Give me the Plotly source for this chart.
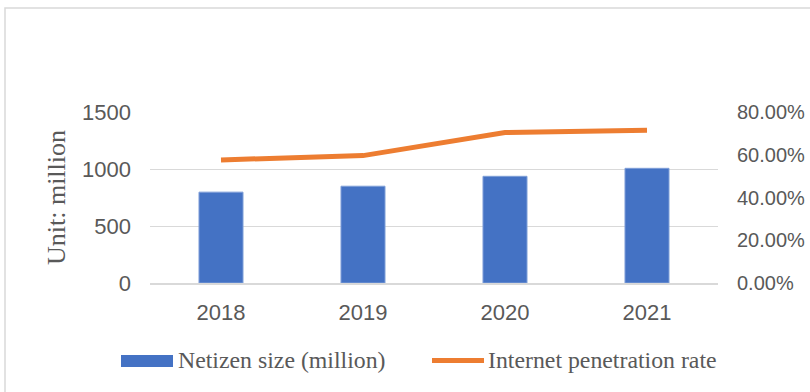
import plotly.graph_objects as go

years = ["2018", "2019", "2020", "2021"]
netizen_size = [797, 849, 936, 1006]
penetration_rate = [0.576, 0.596, 0.704, 0.715]

left_ticks = [0, 500, 1000, 1500]
right_ticks = [0, 0.2, 0.4, 0.6, 0.8]
right_tick_text = ["0.00%", "20.00%", "40.00%", "60.00%", "80.00%"]

bar_name = "Netizen size (million)"
line_name = "Internet penetration rate"

W, H = 810, 392
L, R, T, B = 150, 92, 112, 109
pw = W - L - R
ph = H - T - B


def px(x):
    return (x - L) / pw


def py(y):
    return (T + ph - y) / ph


BLUE = "#4472C4"
ORANGE = "#ED7D31"

fig = go.Figure()
fig.add_trace(go.Bar(
    x=years, y=netizen_size, name=bar_name,
    marker=dict(color=BLUE, line=dict(color="#7f9fd8", width=1)),
    yaxis="y",
))
fig.add_trace(go.Scatter(
    x=years, y=penetration_rate, name=line_name,
    mode="lines", line=dict(color=ORANGE, width=5),
    yaxis="y2",
))

tick_font = dict(family="Liberation Sans, Arial, sans-serif", size=22, color="#595959")
right_font = dict(family="Liberation Sans, Arial, sans-serif", size=20, color="#595959")
serif_font = dict(family="Liberation Serif, Times New Roman, serif", size=23.8, color="#595959")

shapes = [
    dict(type="rect", xref="paper", yref="paper",
         x0=px(5), x1=px(W + 20), y0=py(H + 20), y1=py(8),
         line=dict(color="#d9d9d9", width=1.5), fillcolor="rgba(0,0,0,0)", layer="below"),
    # legend keys
    dict(type="rect", xref="paper", yref="paper",
         x0=px(121), x1=px(173), y0=py(367), y1=py(355),
         line=dict(width=0), fillcolor=BLUE),
    dict(type="line", xref="paper", yref="paper",
         x0=px(432), x1=px(484), y0=py(360.5), y1=py(360.5),
         line=dict(color=ORANGE, width=5)),
]
annotations = [
    dict(text=bar_name, xref="paper", yref="paper", x=px(176), y=py(360),
         xanchor="left", yanchor="middle", showarrow=False, font=serif_font),
    dict(text=line_name, xref="paper", yref="paper", x=px(486), y=py(360),
         xanchor="left", yanchor="middle", showarrow=False, font=serif_font),
]

fig.update_layout(
    width=W, height=H,
    margin=dict(l=L, r=R, t=T, b=B, autoexpand=False),
    paper_bgcolor="white", plot_bgcolor="white",
    bargap=0.69,
    showlegend=False,
    xaxis=dict(
        type="category", showgrid=False, showline=True, linecolor="#d9d9d9", linewidth=1.5,
        tickfont=tick_font, ticks="", ticklabelstandoff=9, automargin=False,
    ),
    yaxis=dict(
        range=[0, 1500], tickvals=left_ticks, showgrid=True, gridcolor="#d9d9d9", gridwidth=1.3,
        zeroline=False, showline=False, tickfont=tick_font, ticks="", ticklabelstandoff=18,
        title=dict(text="Unit: million", font=dict(family="Liberation Serif, Times New Roman, serif",
                                                     size=26, color="#595959"), standoff=8),
        automargin=False,
    ),
    yaxis2=dict(
        range=[0, 0.8], tickvals=right_ticks, ticktext=right_tick_text, overlaying="y", side="right",
        showgrid=False, zeroline=False, showline=False, tickfont=right_font, ticks="",
        ticklabelstandoff=18, automargin=False,
    ),
    shapes=shapes,
    annotations=annotations,
)

fig.write_html("out.html")
